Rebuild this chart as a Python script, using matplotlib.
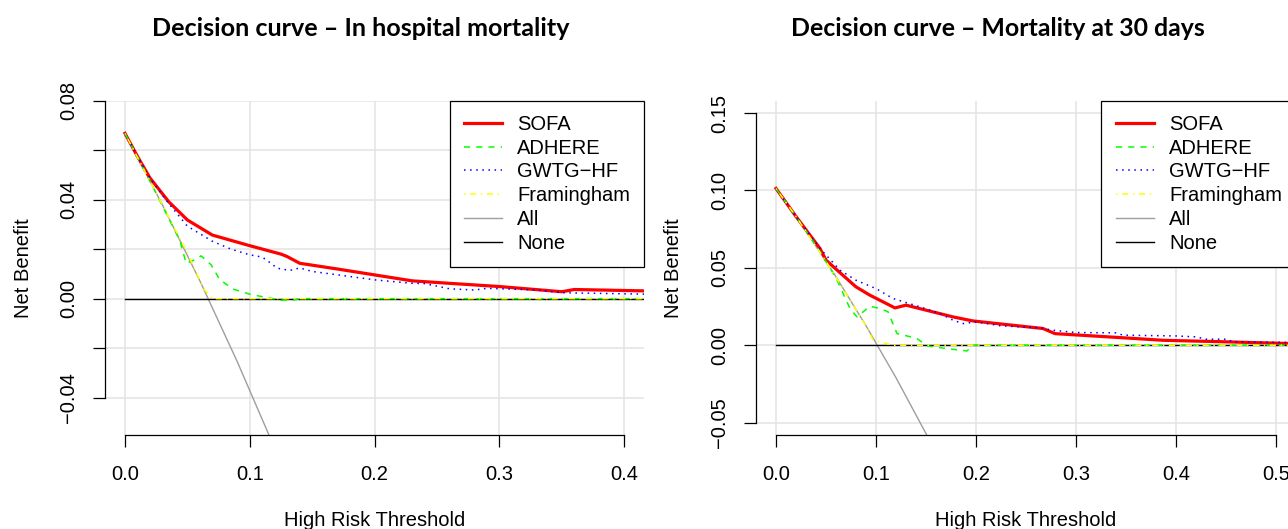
import matplotlib
matplotlib.use("Agg")
import matplotlib.pyplot as plt

plt.rcParams['font.family'] = ['Liberation Sans', 'DejaVu Sans']
plt.rcParams['axes.unicode_minus'] = True

# ---- In hospital mortality (left panel) ----
hosp_sofa_x = [0, 0.01, 0.02, 0.035, 0.05, 0.07, 0.10, 0.125, 0.13, 0.14, 0.17, 0.20, 0.23, 0.26, 0.30, 0.35, 0.36, 0.42]
hosp_sofa_y = [0.0668, 0.0575, 0.0488, 0.0392, 0.0318, 0.0257, 0.0214, 0.0180, 0.0170, 0.0143, 0.0120, 0.0096, 0.0072, 0.0062, 0.0049, 0.0028, 0.0037, 0.0031]
hosp_adhere_x = [0, 0.02, 0.044, 0.049, 0.055, 0.061, 0.069, 0.076, 0.087, 0.10, 0.11, 0.125, 0.135, 0.14, 0.42]
hosp_adhere_y = [0.0668, 0.0475, 0.0235, 0.0143, 0.0155, 0.0173, 0.0137, 0.0076, 0.0038, 0.0018, 0.0008, -0.0006, -0.0006, 0.0, 0.0]
hosp_gwtg_x = [0, 0.01, 0.02, 0.035, 0.05, 0.07, 0.085, 0.10, 0.11, 0.115, 0.122, 0.132, 0.14, 0.15, 0.20, 0.23, 0.24, 0.26, 0.28, 0.29, 0.30, 0.33, 0.35, 0.42]
hosp_gwtg_y = [0.0668, 0.0575, 0.0487, 0.0385, 0.0293, 0.0232, 0.0200, 0.0177, 0.0168, 0.0150, 0.0123, 0.0114, 0.0124, 0.0110, 0.0076, 0.0062, 0.0061, 0.0040, 0.0035, 0.0042, 0.0040, 0.0035, 0.0024, 0.0018]
hosp_fram_x = [0, 0.03, 0.05, 0.063, 0.07, 0.42]
hosp_fram_y = [0.0668, 0.0379, 0.0185, 0.0040, 0.0, 0.0]
hosp_all_x = [0, 0.03, 0.06, 0.09, 0.12]
hosp_all_y = [0.0668, 0.0379, 0.0072, -0.0255, -0.0605]
hosp_none_x = [0, 0.42]
hosp_none_y = [0, 0]

# ---- Mortality at 30 days (right panel) ----
d30_sofa_x = [0, 0.02, 0.044, 0.05, 0.065, 0.08, 0.094, 0.119, 0.13, 0.177, 0.197, 0.224, 0.267, 0.279, 0.35, 0.387, 0.45, 0.52]
d30_sofa_y = [0.1013, 0.0832, 0.0625, 0.0550, 0.0463, 0.0377, 0.0323, 0.0241, 0.0259, 0.0183, 0.0157, 0.0138, 0.0108, 0.0075, 0.0047, 0.0032, 0.0022, 0.0010]
d30_adhere_x = [0, 0.02, 0.044, 0.06, 0.074, 0.081, 0.094, 0.104, 0.112, 0.121, 0.131, 0.141, 0.151, 0.171, 0.191, 0.197, 0.52]
d30_adhere_y = [0.1013, 0.0832, 0.0605, 0.0435, 0.0237, 0.0183, 0.0252, 0.0237, 0.0216, 0.0075, 0.0060, 0.0043, -0.0004, -0.0022, -0.0037, 0.0, 0.0]
d30_gwtg_x = [0, 0.02, 0.044, 0.064, 0.08, 0.10, 0.117, 0.13, 0.144, 0.164, 0.177, 0.187, 0.20, 0.224, 0.264, 0.277, 0.30, 0.34, 0.347, 0.40, 0.42, 0.43, 0.45, 0.457, 0.52]
d30_gwtg_y = [0.1013, 0.0832, 0.0625, 0.0485, 0.0420, 0.0366, 0.0302, 0.0276, 0.0248, 0.0205, 0.0162, 0.0140, 0.0151, 0.0126, 0.0112, 0.0097, 0.0082, 0.0080, 0.0065, 0.0060, 0.0054, 0.0039, 0.0039, 0.0022, 0.0018]
d30_fram_x = [0, 0.02, 0.05, 0.09, 0.097, 0.117, 0.52]
d30_fram_y = [0.1013, 0.0832, 0.0542, 0.0126, 0.0035, 0.0, 0.0]
d30_all_x = [0, 0.03, 0.06, 0.09, 0.12, 0.15, 0.18]
d30_all_y = [0.1013, 0.0737, 0.0442, 0.0126, -0.0210, -0.0571, -0.0957]
d30_none_x = [0, 0.52]
d30_none_y = [0, 0]

legend_order = ['SOFA', 'ADHERE', 'GWTG\u2212HF', 'Framingham', 'All', 'None']

FS = 14.5
W, H = 1288, 529

styles = {
    'All': dict(color='#9e9e9e', lw=1.0, ls='-'),
    'None': dict(color='black', lw=1.0, ls='-'),
    'SOFA': dict(color='#ff0000', lw=2.3, ls='-'),
    'ADHERE': dict(color='#00ff00', lw=1.1, ls=(0, (4, 4))),
    'GWTG\u2212HF': dict(color='#0000ff', lw=1.1, ls=(0, (1, 3))),
    'Framingham': dict(color='#ffff00', lw=1.1, ls=(0, (1, 3, 4, 3))),
}


def panel(ax, series, xlim, ylim, xticks, yticks, ylabels, ylab_px):
    lines = {}
    for name, (x, y) in series:
        lines[name], = ax.plot(x, y, label=name, **styles[name])
    ax.set_xlim(xlim)
    ax.set_ylim(ylim)
    ax.set_xticks(xticks, ['%.1f' % t for t in xticks])
    ax.set_yticks(yticks, ylabels)
    ax.grid(True, color='#e3e3e3', lw=1.1)
    ax.set_axisbelow(True)
    for s in ['top', 'right']:
        ax.spines[s].set_visible(False)
    ax.spines['left'].set_bounds(yticks[0], yticks[-1])
    ax.spines['bottom'].set_bounds(xticks[0], xticks[-1])
    for s in ['left', 'bottom']:
        ax.spines[s].set_linewidth(0.9)
    ax.tick_params(direction='out', length=8.9, width=0.9, labelsize=FS)
    ax.tick_params(axis='x', pad=23.5)
    ax.tick_params(axis='y', pad=13.1)
    for lbl in ax.get_xticklabels():
        lbl.set_va('baseline')
    for lbl in ax.get_yticklabels():
        lbl.set_rotation(90)
        lbl.set_rotation_mode('anchor')
        lbl.set_ha('center')
        lbl.set_va('baseline')

    ax.set_xlabel('High Risk Threshold', fontsize=FS)
    ax.xaxis.set_label_coords(0.5, -(526 - 435) / 334.3)
    ax.xaxis.label.set_va('baseline')
    ax.set_ylabel('Net Benefit', fontsize=FS)
    ax.yaxis.set_label_coords(ylab_px, 0.5)
    ax.yaxis.label.set_va('baseline')

    leg = ax.legend([lines[n] for n in legend_order], legend_order, loc='upper right',
                    borderaxespad=0, fancybox=False, edgecolor='black', framealpha=1,
                    fontsize=FS, handlelength=1.9, handletextpad=0.75,
                    labelspacing=0.24, borderpad=0.7)
    leg.get_frame().set_linewidth(0.9)


fig = plt.figure(figsize=(W / 100, H / 100), dpi=100)
ax1 = fig.add_axes([105 / W, 94 / H, 539.2 / W, 334.3 / H])
ax2 = fig.add_axes([756 / W, 94 / H, 540 / W, 334.3 / H])

panel(ax1,
      [('All', (hosp_all_x, hosp_all_y)), ('None', (hosp_none_x, hosp_none_y)),
       ('SOFA', (hosp_sofa_x, hosp_sofa_y)), ('ADHERE', (hosp_adhere_x, hosp_adhere_y)),
       ('GWTG\u2212HF', (hosp_gwtg_x, hosp_gwtg_y)), ('Framingham', (hosp_fram_x, hosp_fram_y))],
      (-0.016, 0.416), (-0.0551, 0.08), [0, 0.1, 0.2, 0.3, 0.4],
      [-0.04, -0.02, 0, 0.02, 0.04, 0.06, 0.08],
      ['\u22120.04', '', '0.00', '', '0.04', '', '0.08'],
      -(105 - 29) / 539.2)

panel(ax2,
      [('All', (d30_all_x, d30_all_y)), ('None', (d30_none_x, d30_none_y)),
       ('SOFA', (d30_sofa_x, d30_sofa_y)), ('ADHERE', (d30_adhere_x, d30_adhere_y)),
       ('GWTG\u2212HF', (d30_gwtg_x, d30_gwtg_y)), ('Framingham', (d30_fram_x, d30_fram_y))],
      (-0.02, 0.52), (-0.058, 0.158), [0, 0.1, 0.2, 0.3, 0.4, 0.5],
      [-0.05, 0, 0.05, 0.10, 0.15],
      ['\u22120.05', '0.00', '0.05', '0.10', '0.15'],
      -(756 - 679) / 540)

# titles (sized to the width they take in the reference)
renderer = fig.canvas.get_renderer()
for cx, txt, target in [(361, 'Decision curve \u2013 In hospital mortality', 418),
                        (998, 'Decision curve \u2013 Mortality at 30 days', 415)]:
    t = fig.text(cx / W, 1 - 35.7 / H, txt, ha='center', va='baseline',
                 family=['Lato', 'DejaVu Sans'], weight='bold', fontsize=16)
    w = t.get_window_extent(renderer).width
    t.set_fontsize(16 * target / w)

fig.savefig('out.png', dpi=100, facecolor='white')
